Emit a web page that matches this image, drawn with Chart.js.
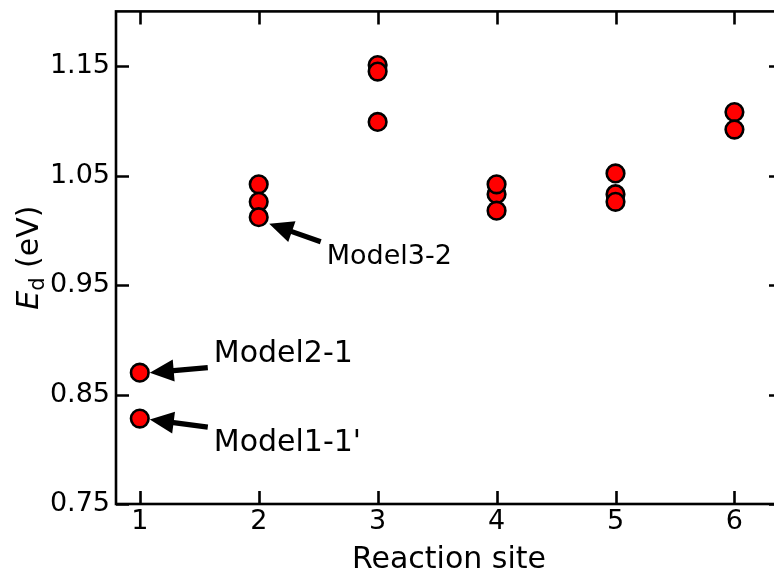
<!DOCTYPE html>
<html>
<head>
<meta charset="utf-8">
<script src="https://cdn.jsdelivr.net/npm/chart.js@4.4.1/dist/chart.umd.min.js"></script>
<style>
  html, body { margin: 0; padding: 0; background: #fff; overflow: hidden; }
  #wrap { width: 774px; height: 578px; overflow: hidden; position: relative; }
  canvas { display: block; }
</style>
</head>
<body>
<div id="wrap"><canvas id="c" width="800" height="578" style="width:800px;height:578px"></canvas></div>
<script>
// Desorption energy per reaction site (points drawn in this order; later ones overlap earlier ones)
const sites    = [1,     1,     2,     2,     2,     3,     3,     3,     4,     4,     4,     5,     5,     5,     6,     6];
const energies = [0.870, 0.828, 1.042, 1.026, 1.012, 1.099, 1.151, 1.145, 1.033, 1.042, 1.018, 1.052, 1.033, 1.026, 1.108, 1.092];

// Axis ticks
const xTicks = [1, 2, 3, 4, 5, 6];
const yTicks = [0.75, 0.85, 0.95, 1.05, 1.15];
const yTickLabels = ['0.75', '0.85', '0.95', '1.05', '1.15'];

// Labelled points
const annoLabels   = ['Model2-1', "Model1-1'", 'Model3-2'];
const annoSites    = [1, 1, 2];
const annoEnergies = [0.870, 0.828, 1.012];

const FONT = "'DejaVu Sans', sans-serif";

// Arrow / text placement relative to the labelled point (pixels)
const annoLayout = [
  { tip: [10, 0],    tail: [68, -5],   text: [74, -11],  size: 30 },
  { tip: [10, 1],    tail: [68, 8.5],  text: [74, 32],   size: 30 },
  { tip: [10.5, 6.5], tail: [62, 24.5], text: [68, 46.5], size: 27 }
];

function drawArrow(ctx, sx, sy, tx, ty) {
  const dx = tx - sx, dy = ty - sy;
  const len = Math.hypot(dx, dy);
  const ux = dx / len, uy = dy / len;
  const nx = -uy, ny = ux;
  const hl = 24, hw = 11, sw = 2.6;
  const bx = tx - ux * hl, by = ty - uy * hl;
  ctx.beginPath();
  ctx.moveTo(sx + nx * sw, sy + ny * sw);
  ctx.lineTo(bx + nx * sw, by + ny * sw);
  ctx.lineTo(bx + nx * hw, by + ny * hw);
  ctx.lineTo(tx, ty);
  ctx.lineTo(bx - nx * hw, by - ny * hw);
  ctx.lineTo(bx - nx * sw, by - ny * sw);
  ctx.lineTo(sx - nx * sw, sy - ny * sw);
  ctx.closePath();
  ctx.fillStyle = '#000';
  ctx.fill();
}

// Frame with inward ticks on all four sides, y title with subscript, and annotations
const framePlugin = {
  id: 'frame',
  beforeDatasetsDraw(chart) {
    const { ctx, chartArea: a, scales: { x, y } } = chart;
    const tl = 13;
    ctx.save();
    ctx.strokeStyle = '#000';
    ctx.lineWidth = 2.6;
    ctx.lineCap = 'butt';
    ctx.beginPath();
    xTicks.forEach(v => {
      const px = Math.round(x.getPixelForValue(v)) + 0.5;
      ctx.moveTo(px, a.bottom); ctx.lineTo(px, a.bottom - tl);
      ctx.moveTo(px, a.top);    ctx.lineTo(px, a.top + tl);
    });
    yTicks.forEach(v => {
      const py = Math.round(y.getPixelForValue(v)) + 0.5;
      ctx.moveTo(a.left, py);  ctx.lineTo(a.left + tl, py);
      ctx.moveTo(a.right, py); ctx.lineTo(a.right - tl, py);
    });
    ctx.stroke();
    ctx.lineJoin = 'miter';
    ctx.strokeRect(a.left, a.top, a.right - a.left, a.bottom - a.top);

    // y-axis title: E_d (eV)
    const cx = 38, cy = (a.top + a.bottom) / 2;
    ctx.translate(cx, cy);
    ctx.rotate(-Math.PI / 2);
    ctx.fillStyle = '#000';
    ctx.textBaseline = 'alphabetic';
    ctx.textAlign = 'left';
    const fE = 'italic 30px ' + FONT, fSub = '21px ' + FONT, fRest = '30px ' + FONT;
    ctx.font = fE;    const wE = ctx.measureText('E').width;
    ctx.font = fSub;  const wD = ctx.measureText('d').width;
    ctx.font = fRest; const wR = ctx.measureText(' (eV)').width;
    let sx = -(wE + wD + wR) / 2;
    ctx.font = fE;    ctx.fillText('E', sx, 0); sx += wE;
    ctx.font = fSub;  ctx.fillText('d', sx, 6); sx += wD;
    ctx.font = fRest; ctx.fillText(' (eV)', sx, 0);
    ctx.restore();
  },
  afterDatasetsDraw(chart) {
    const { ctx, scales: { x, y } } = chart;
    ctx.save();
    annoLabels.forEach((label, i) => {
      const px = x.getPixelForValue(annoSites[i]);
      const py = y.getPixelForValue(annoEnergies[i]);
      const L = annoLayout[i];
      drawArrow(ctx, px + L.tail[0], py + L.tail[1], px + L.tip[0], py + L.tip[1]);
      ctx.font = L.size + 'px ' + FONT;
      ctx.fillStyle = '#000';
      ctx.textAlign = 'left';
      ctx.textBaseline = 'alphabetic';
      ctx.fillText(label, px + L.text[0], py + L.text[1]);
    });
    ctx.restore();
  }
};

new Chart(document.getElementById('c'), {
  type: 'scatter',
  data: {
    datasets: [{
      data: sites.map((s, i) => ({ x: s, y: energies[i] })),
      pointStyle: 'circle',
      pointRadius: 8.8,
      pointHoverRadius: 8.8,
      backgroundColor: '#ff0000',
      borderColor: '#000000',
      borderWidth: 2.6,
      pointBorderWidth: 2.6
    }]
  },
  options: {
    responsive: false,
    animation: false,
    devicePixelRatio: 1,
    events: [],
    layout: { padding: { top: 9, right: 18, left: 0, bottom: 0 } },
    plugins: { legend: { display: false }, tooltip: { enabled: false } },
    scales: {
      x: {
        type: 'linear',
        min: 0.8,
        max: 6.4,
        afterBuildTicks: s => { s.ticks = xTicks.map(v => ({ value: v })); },
        afterFit: s => { s.height = 74; s.paddingLeft = 0; s.paddingRight = 0; },
        grid: { display: false, drawTicks: false },
        border: { display: false },
        ticks: {
          color: '#000',
          padding: 2,
          maxRotation: 0,
          font: { family: FONT, size: 27 },
          callback: v => String(v)
        },
        title: {
          display: true,
          text: 'Reaction site',
          color: '#000',
          font: { family: FONT, size: 30 },
          padding: { top: 0, bottom: 0 }
        }
      },
      y: {
        type: 'linear',
        min: 0.75,
        max: 1.2,
        afterBuildTicks: s => { s.ticks = yTicks.map(v => ({ value: v })); },
        afterFit: s => { s.width = 116; s.paddingTop = 0; s.paddingBottom = 0; },
        grid: { display: false, drawTicks: false },
        border: { display: false },
        ticks: {
          color: '#000',
          padding: 6,
          font: { family: FONT, size: 27 },
          callback: (v) => yTickLabels[yTicks.indexOf(v)] ?? ''
        }
      }
    }
  },
  plugins: [framePlugin]
});
</script>
</body>
</html>
